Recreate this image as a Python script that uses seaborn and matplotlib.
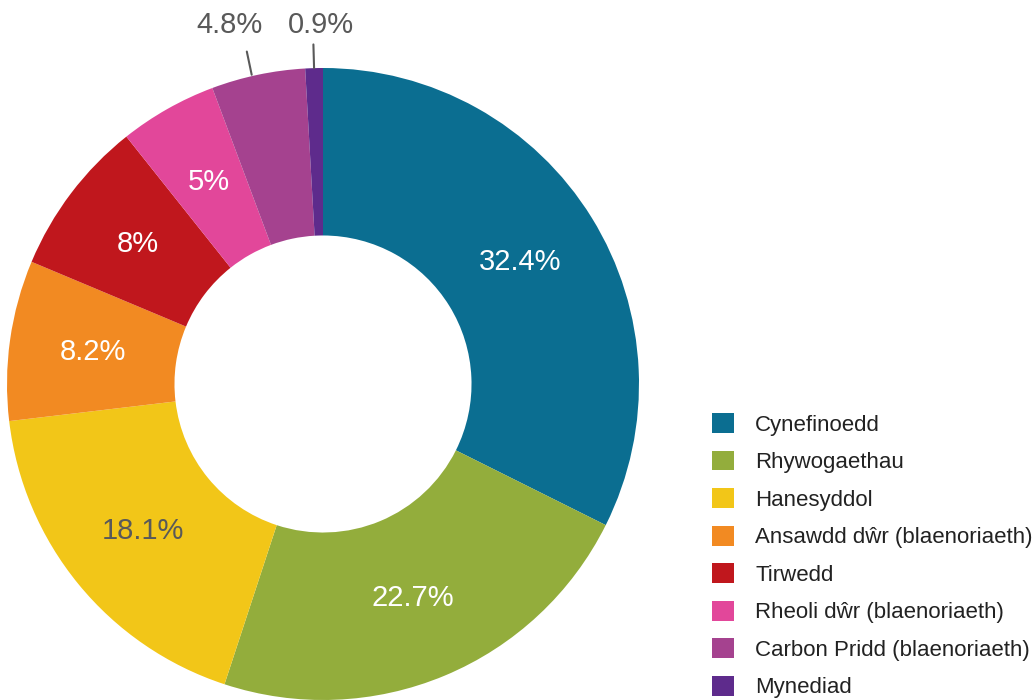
import numpy as np
import seaborn as sns
import matplotlib.pyplot as plt
from matplotlib.patches import Patch

# данные
categories = ["Cynefinoedd", "Rhywogaethau", "Hanesyddol", "Ansawdd dŵr (blaenoriaeth)",
              "Tirwedd", "Rheoli dŵr (blaenoriaeth)", "Carbon Pridd (blaenoriaeth)", "Mynediad"]
values = [32.4, 22.7, 18.1, 8.2, 8, 5, 4.8, 0.9]
labels = ["32.4%", "22.7%", "18.1%", "8.2%", "8%", "5%", "4.8%", "0.9%"]
colors = ["#0b6e91", "#93ad3c", "#f2c618", "#f28a22", "#c0171d", "#e2479a", "#a5428f", "#5e2b8c"]

sns.set_theme(style="white")
plt.rcParams['font.family'] = ['Liberation Sans', 'DejaVu Sans']

fig = plt.figure(figsize=(10.36, 7), dpi=100)
R = 316
cx, cy = 323, 384
ax = fig.add_axes([(cx - R) / 1036, (700 - cy - R) / 700, 2 * R / 1036, 2 * R / 700])

wedges, _ = ax.pie(values, colors=colors, startangle=90, counterclock=False,
                   radius=1, wedgeprops=dict(width=0.53, linewidth=0))
for w in wedges:
    w.set_clip_on(False)
ax.set_xlim(-1, 1)
ax.set_ylim(-1, 1)
ax.set_aspect('equal')
ax.axis('off')

gray = "#595959"
# подписи маленьких секторов снаружи
outside = {6: (-0.19, 1.135, 'right'), 7: (-0.11, 1.135, 'left')}
for i, w in enumerate(wedges):
    ang = np.deg2rad((w.theta1 + w.theta2) / 2)
    if i in outside:
        tx, ty, ha = outside[i]
        r0, r1 = 1.0, 1.075
        dx = -0.02 if i == 6 else 0
        ax.plot([r0 * np.cos(ang) + dx, r1 * np.cos(ang) + dx],
                [r0 * np.sin(ang), r1 * np.sin(ang)], color=gray, lw=1.5, clip_on=False)
        ax.text(tx, ty, labels[i], ha=ha, va='center', fontsize=21, color=gray)
    else:
        r = 0.735
        col = gray if i == 2 else "white"
        ax.text(r * np.cos(ang), r * np.sin(ang), labels[i], ha='center', va='center',
                fontsize=21, color=col)

handles = [Patch(facecolor=c, edgecolor='none') for c in colors]
fig.legend(handles, categories, loc='upper left', bbox_to_anchor=(712 / 1036, 1 - 413 / 700),
           frameon=False, fontsize=16, handlelength=1.0, handleheight=1.0,
           handletextpad=0.95, labelspacing=0.675, borderpad=0, borderaxespad=0,
           labelcolor="#222222")

fig.savefig("out.png", dpi=100)
